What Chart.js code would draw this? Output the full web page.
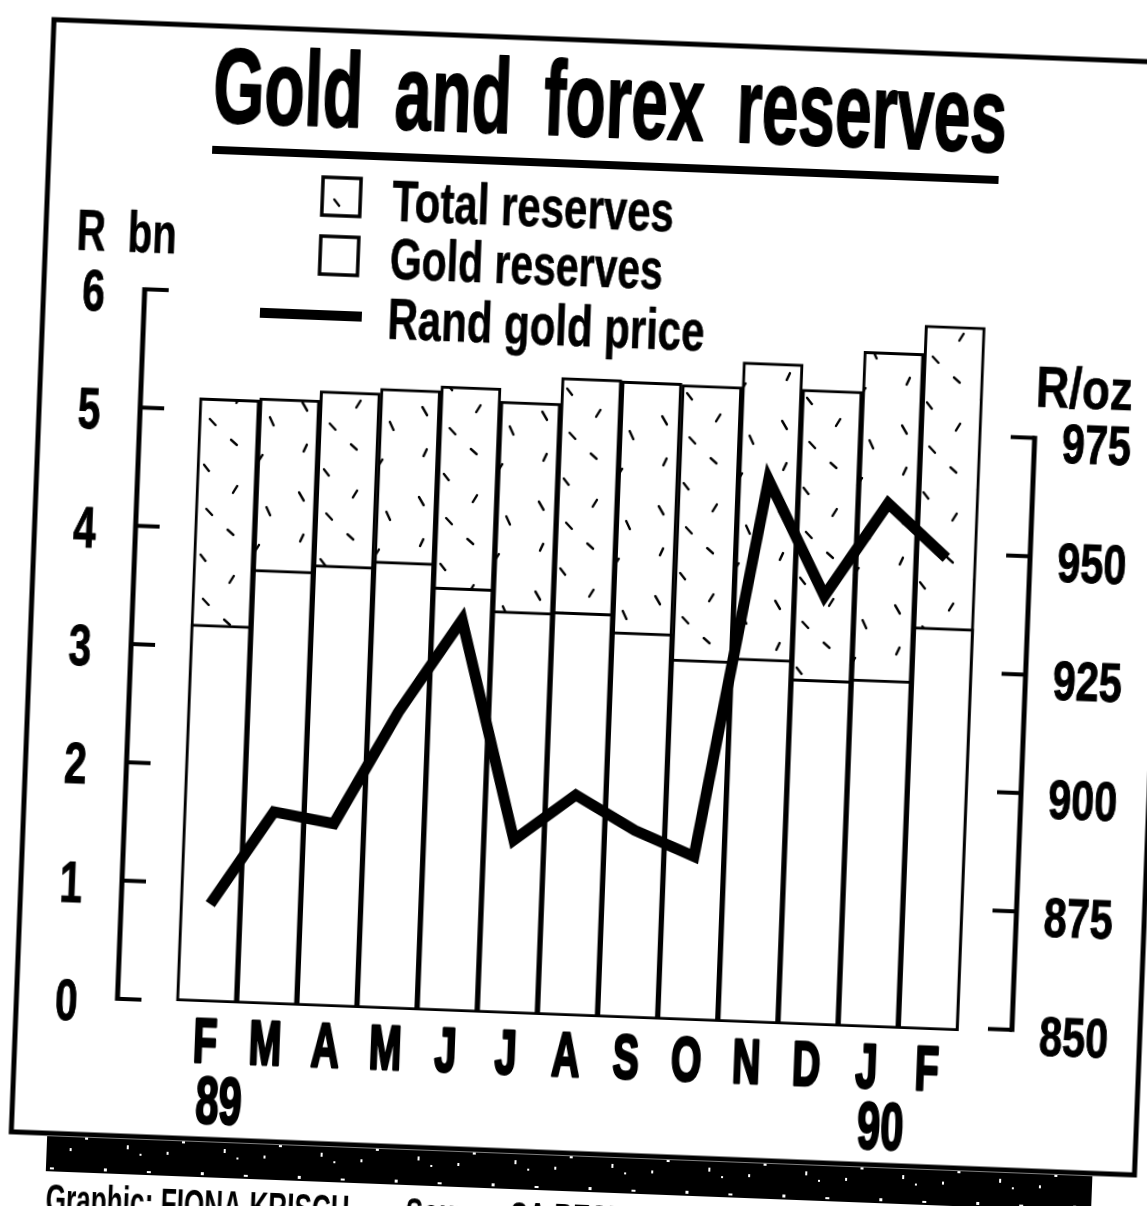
<!DOCTYPE html>
<html>
<head>
<meta charset="utf-8">
<title>Gold and forex reserves</title>
<script src="https://cdn.jsdelivr.net/npm/chart.js@4.4.1/dist/chart.umd.min.js"></script>
<style>
  html, body { margin: 0; padding: 0; background: #fff; overflow: hidden; width: 1147px; height: 1206px; }
  /* the pasted-up graphic sits slightly askew on the page */
  #sheet { position: absolute; left: -77px; top: -47px; width: 1301px; height: 1300px;
           transform: rotate(2.2deg); transform-origin: 650.5px 650px; }
  #sheet canvas { display: block; }
</style>
</head>
<body>
<div id="sheet"><canvas id="chart" width="1301" height="1300"></canvas></div>
<script>
// Months, February 1989 to February 1990
const months = ['F', 'M', 'A', 'M', 'J', 'J', 'A', 'S', 'O', 'N', 'D', 'J', 'F'];
const yearMarks = ['89', '', '', '', '', '', '', '', '', '', '', '90', ''];
// Reserves, R bn
const totalReserves = [5.10, 5.12, 5.20, 5.24, 5.28, 5.17, 5.39, 5.38, 5.37, 5.58, 5.37, 5.71, 5.95];
const goldReserves  = [3.19, 3.67, 3.73, 3.78, 3.58, 3.40, 3.41, 3.26, 3.05, 3.08, 2.92, 2.94, 3.40];
// Rand gold price, R/oz
const randGoldPrice = [870, 890, 888, 912, 932, 886, 896, 889, 884, 964, 940, 960, 949];
// Axis ticks
const reserveTicks = [0, 1, 2, 3, 4, 5, 6];
const priceTicks = [850, 875, 900, 925, 950, 975];

const W = 1301, H = 1300;
const AREA = { left: 210, right: 1105, top: 347, bottom: 1063 };
const FONT = '"Liberation Sans", Arial, Helvetica, sans-serif';

const canvas = document.getElementById('chart');
const ctx = canvas.getContext('2d');

// sparse dash stipple used for the total-reserves fill
const stippleTile = document.createElement('canvas');
stippleTile.width = 120; stippleTile.height = 90;
(() => {
  const s = stippleTile.getContext('2d');
  s.fillStyle = '#fff'; s.fillRect(0, 0, 120, 90);
  s.strokeStyle = '#000'; s.lineWidth = 2.4; s.lineCap = 'round';
  [[12, 10, 5, 8], [70, 6, -4, 7], [40, 30, 6, 6], [100, 26, 4, 8],
   [18, 52, -3, 7], [62, 50, 6, 5], [94, 64, -4, 7], [36, 76, 5, 6]].forEach(([x, y, dx, dy]) => {
    s.beginPath(); s.moveTo(x, y); s.lineTo(x + dx, y + dy); s.stroke();
  });
})();
const stipple = ctx.createPattern(stippleTile, 'repeat');

// black rule under the graphic, with a few white flecks
const speckTile = document.createElement('canvas');
speckTile.width = 97; speckTile.height = 35;
(() => {
  const s = speckTile.getContext('2d');
  s.fillStyle = '#000'; s.fillRect(0, 0, 97, 35);
  s.fillStyle = '#fff';
  [[9, 8, 3, 3], [31, 19, 2, 4], [52, 9, 4, 2], [71, 24, 2, 3], [86, 13, 3, 2], [44, 27, 2, 2]]
    .forEach(([x, y, w, h]) => s.fillRect(x, y, w, h));
})();
const specks = ctx.createPattern(speckTile, 'repeat');

const points = (values) => values.map((v, i) => ({ x: i, y: v }));

function text(g, str, x, y, o) {
  g.save();
  g.font = `${o.weight || 'bold'} ${o.size}px ${FONT}`;
  g.wordSpacing = o.wordSpacing || '0px';
  const w = g.measureText(str).width;
  const sx = o.width ? o.width / w : (o.sx || 1);
  g.translate(x, y);
  g.scale(sx, 1);
  g.textAlign = o.align || 'left';
  g.textBaseline = 'alphabetic';
  g.fillStyle = '#000';
  g.fillText(str, 0, 0);
  if (o.stroke) {
    g.lineWidth = o.stroke; g.strokeStyle = '#000'; g.lineJoin = 'round';
    g.strokeText(str, 0, 0);
  }
  g.restore();
  return sx;
}

function seg(g, x1, y1, x2, y2, lw) {
  g.lineWidth = lw;
  g.beginPath(); g.moveTo(x1, y1); g.lineTo(x2, y2); g.stroke();
}

const sheetArt = {
  id: 'sheetArt',
  beforeDraw(chart) {
    const g = chart.ctx;
    g.save(); g.fillStyle = '#fff'; g.fillRect(0, 0, chart.width, chart.height); g.restore();
  },
  afterDraw(chart) {
    const g = chart.ctx;
    const { left, right, bottom } = chart.chartArea;
    const xs = chart.scales.x, yL = chart.scales.y, yR = chart.scales.y1;
    g.save();
    g.strokeStyle = '#000'; g.fillStyle = '#000'; g.lineCap = 'butt';

    // frame and the rule below it
    g.lineWidth = 5;
    g.strokeRect(109, 87, 1124, 1113);
    g.fillStyle = specks;
    g.fillRect(145, 1203, 1046, 35);
    g.fillStyle = '#000';
    const creditScale = text(g, 'Graphic: FIONA KRISCH', 146, 1280, { size: 42, width: 304 });
    text(g, 'Source: SA RESERVE BANK', 506, 1280, { size: 42, sx: creditScale });

    // title with underline
    text(g, 'Gold and forex reserves', 271, 183, { size: 105, width: 794, stroke: 2, wordSpacing: '22px' });
    seg(g, 272, 211, 1059, 211, 8);

    // legend
    const byLabel = (l) => chart.data.datasets.find((d) => d.label === l);
    const legendRows = [
      { ds: byLabel('Total reserves'), y: 275, w: 282, kind: 'box', cy: 253 },
      { ds: byLabel('Gold reserves'), y: 333, w: 273, kind: 'box', cy: 312 },
      { ds: byLabel('Rand gold price'), y: 393, w: 317, kind: 'line', cy: 372 }
    ];
    legendRows.forEach((r) => {
      if (r.kind === 'box') {
        g.fillStyle = r.ds.backgroundColor;
        g.fillRect(384, r.cy - 19, 38, 38);
        g.lineWidth = 3.5; g.strokeRect(384, r.cy - 19, 38, 38);
        g.fillStyle = '#000';
      } else {
        seg(g, 326, r.cy, 428, r.cy, r.ds.borderWidth - 1);
      }
      text(g, r.ds.label, 454, r.y, { size: 58, width: r.w, stroke: 0.6 });
    });

    // left axis: reserves
    seg(g, left, yL.getPixelForValue(6) - 2, left, yL.getPixelForValue(0) + 2, 5);
    yL.ticks.forEach((t) => {
      const py = yL.getPixelForValue(t.value);
      seg(g, left, py, left + 24, py, 4);
      text(g, String(t.value), left - 51, py + 23, { size: 58, sx: 0.7, align: 'center', stroke: 1 });
    });
    text(g, 'R bn', 140, 316, { size: 58, width: 100, wordSpacing: '16px', stroke: 0.6 });

    // right axis: rand gold price
    seg(g, right, yR.getPixelForValue(975) - 2, right, yR.getPixelForValue(850) + 2, 5);
    yR.ticks.forEach((t) => {
      const py = yR.getPixelForValue(t.value);
      seg(g, right, py, right - 24, py, 4);
      text(g, String(t.value), right + 62, py + 24, { size: 56, sx: 0.74, align: 'center', stroke: 1 });
    });
    text(g, 'R/oz', 1153, 436, { size: 58, width: 97, align: 'center', stroke: 0.6 });

    // month and year labels
    xs.ticks.forEach((t) => {
      const px = xs.getPixelForValue(t.value);
      text(g, months[t.value], px, bottom + 60, { size: 63, sx: 0.62, align: 'center', stroke: 3 });
      if (yearMarks[t.value]) {
        text(g, yearMarks[t.value], px + 16, bottom + 121, { size: 67, sx: 0.62, align: 'center', stroke: 2.5 });
      }
    });
    g.restore();
  }
};

new Chart(ctx, {
  type: 'bar',
  data: {
    datasets: [
      {
        type: 'line', label: 'Rand gold price', data: points(randGoldPrice), yAxisID: 'y1',
        borderColor: '#000', borderWidth: 11, pointRadius: 0, tension: 0, fill: false,
        borderJoinStyle: 'miter', borderCapStyle: 'butt', order: 0
      },
      {
        label: 'Gold reserves', data: points(goldReserves), yAxisID: 'y',
        backgroundColor: '#fff', borderColor: '#000', borderWidth: 3, borderSkipped: false,
        grouped: false, categoryPercentage: 1, barPercentage: 1, order: 1
      },
      {
        label: 'Total reserves', data: points(totalReserves), yAxisID: 'y',
        backgroundColor: stipple, borderColor: '#000', borderWidth: 3, borderSkipped: false,
        grouped: false, categoryPercentage: 1, barPercentage: 1, order: 2
      }
    ]
  },
  options: {
    responsive: false, animation: false, devicePixelRatio: 1, events: [],
    layout: { padding: { top: AREA.top, left: 0, right: 0, bottom: 0 } },
    plugins: { legend: { display: false }, title: { display: false }, tooltip: { enabled: false } },
    scales: {
      x: {
        type: 'linear', min: -1.48, max: 13.39, offset: false,
        grid: { display: false }, border: { display: false }, ticks: { display: false },
        afterBuildTicks: (s) => { s.ticks = months.map((m, i) => ({ value: i })); },
        afterFit: (s) => { s.height = H - AREA.bottom; }
      },
      y: {
        position: 'left', min: 0, max: 6.05,
        grid: { display: false }, border: { display: false }, ticks: { display: false },
        afterBuildTicks: (s) => { s.ticks = reserveTicks.map((v) => ({ value: v })); },
        afterFit: (s) => { s.width = AREA.left; }
      },
      y1: {
        position: 'right', min: 849.3, max: 1000.4,
        grid: { display: false }, border: { display: false }, ticks: { display: false },
        afterBuildTicks: (s) => { s.ticks = priceTicks.map((v) => ({ value: v })); },
        afterFit: (s) => { s.width = W - AREA.right; }
      }
    }
  },
  plugins: [sheetArt]
});
</script>
</body>
</html>
